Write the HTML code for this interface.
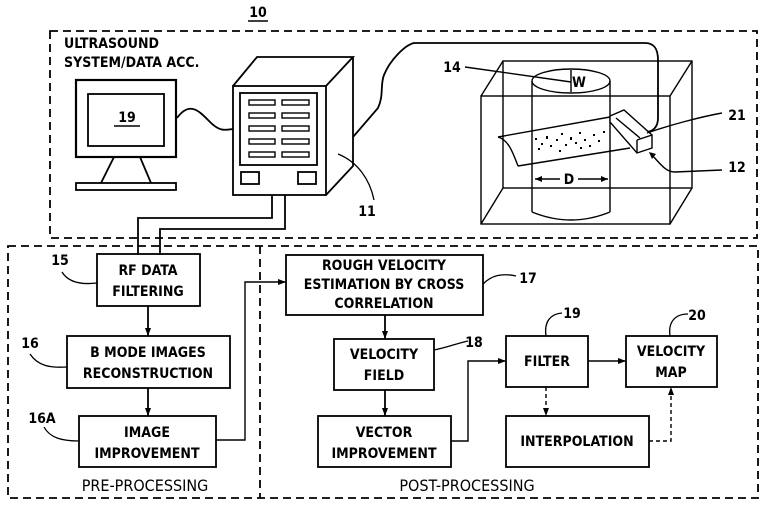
<!DOCTYPE html>
<html><head><meta charset="utf-8"><style>
html,body{margin:0;padding:0;background:#fff;}
svg{display:block}
text{font-family:"DejaVu Sans Condensed","DejaVu Sans","Liberation Sans",sans-serif;font-size:14px;fill:#000;}
</style></head><body>
<svg width="765" height="508" viewBox="0 0 765 508" xmlns="http://www.w3.org/2000/svg">
<defs>
<marker id="a" markerWidth="8" markerHeight="6" refX="8" refY="3" orient="auto" markerUnits="userSpaceOnUse"><path d="M0,0 L8,3 L0,6 z" fill="#000"/></marker>
</defs>
<g fill="none" stroke="#000" stroke-width="1.8">
<rect x="50" y="31" width="707" height="207" stroke-dasharray="8,5"/>
<rect x="8" y="246" width="750" height="252" stroke-dasharray="8,5"/>
<line x1="260" y1="246" x2="260" y2="498" stroke-dasharray="8,5"/>
<rect x="76" y="80" width="100" height="77" stroke-width="2.2"/>
<rect x="88" y="94" width="76" height="52"/>
<line x1="114" y1="157" x2="101" y2="183"/><line x1="140" y1="157" x2="151" y2="183"/>
<rect x="76" y="183" width="100" height="7"/>
<path d="M177,118 C190,100 200,112 210,122 C220,132 225,130 233,129"/>
<rect x="233" y="86" width="93" height="109"/>
<path d="M233,86 L257,57 L353,57 L326,86 M353,57 L353,166 L326,195"/>
<rect x="240" y="93" width="77" height="72"/>
<g stroke-width="1.4">
<rect x="249" y="100" width="26" height="5"/><rect x="282" y="100" width="27" height="5"/>
<rect x="249" y="113" width="26" height="5"/><rect x="282" y="113" width="27" height="5"/>
<rect x="249" y="126" width="26" height="5"/><rect x="282" y="126" width="27" height="5"/>
<rect x="249" y="139" width="26" height="5"/><rect x="282" y="139" width="27" height="5"/>
<rect x="249" y="152" width="26" height="5"/><rect x="282" y="152" width="27" height="5"/>
</g>
<rect x="241" y="172" width="18" height="12"/><rect x="298" y="172" width="18" height="12"/>
<path d="M338,154 C358,162 370,180 374,200" stroke-width="1.3"/>
<path d="M353,137 L378,108 C384,95 380,85 384,75 C390,60 405,45 414,43 L645,43 C655,43 658,50 658,60 L658,118 C658,128 652,132 645,132"/>
<path d="M272,195 L272,218 L138,218 L138,255 M285,195 L285,229 L160,229 L160,255"/>
<g stroke-width="1.4">
<rect x="481" y="96" width="189" height="128"/>
<rect x="503" y="61" width="189" height="127"/>
<path d="M481,96 L503,61 M670,96 L692,61 M481,224 L503,188 M670,224 L692,188"/>
<ellipse cx="571" cy="81" rx="39" ry="12" fill="#fff"/>
<path d="M532,81 L532,212 M610,81 L610,212 M532,212 Q571,228 610,212"/>
<line x1="571" y1="70" x2="571" y2="92"/>
<line x1="465" y1="67" x2="571" y2="82"/>
<path d="M498,137 L610,117 M518,166 L630,148 M498,137 C508,140 512,150 518,166"/>
<line x1="535" y1="179" x2="560" y2="179"/>
<line x1="578" y1="179" x2="608" y2="179"/>
<path d="M610,116 L624,110 L652,135 L652,148 L637,153 L610,122 z" fill="#fff"/>
<path d="M637,140 L652,135 M637,140 L637,153 M616,118 L640,138"/>
<path d="M647,133 C670,125 700,117 722,113"/>
<path d="M650,153 C660,163 665,172 675,172 L722,170" />
</g>
<path d="M535,179 l7,-3 v6z M608,179 l-7,-3 v6z M649,152 l7,2 l-4,5z" fill="#000" stroke="none"/>
<rect x="97" y="254" width="103" height="52"/>
<rect x="67" y="336" width="163" height="52"/>
<rect x="79" y="416" width="137" height="51"/>
<rect x="286" y="255" width="197" height="60"/>
<rect x="334" y="339" width="100" height="51"/>
<rect x="318" y="416" width="133" height="51"/>
<rect x="506" y="336" width="82" height="51"/>
<rect x="626" y="336" width="91" height="51"/>
<rect x="506" y="416" width="143" height="51"/>
<line x1="148" y1="306" x2="148" y2="336" marker-end="url(#a)"/>
<line x1="148" y1="388" x2="148" y2="416" marker-end="url(#a)"/>
<path d="M216,440 L245,440 L245,282 L286,282" marker-end="url(#a)" stroke-width="1.4"/>
<line x1="385" y1="315" x2="385" y2="339" marker-end="url(#a)"/>
<line x1="385" y1="390" x2="385" y2="416" marker-end="url(#a)"/>
<path d="M451,441 L468,441 L468,361 L506,361" marker-end="url(#a)" stroke-width="1.4"/>
<line x1="588" y1="361" x2="626" y2="361" marker-end="url(#a)" stroke-width="1.4"/>
<line x1="546" y1="387" x2="546" y2="416" stroke-dasharray="4,3" marker-end="url(#a)" stroke-width="1.4"/>
<path d="M649,441 L671,441 L671,387" stroke-dasharray="4,3" marker-end="url(#a)" stroke-width="1.4"/>
<g stroke-width="1.3">
<path d="M62,272 C68,282 80,285 97,283"/>
<path d="M30,354 C38,366 50,368 67,367"/>
<path d="M44,427 C50,438 62,441 79,441"/>
<path d="M483,284 C492,275 502,273 516,276"/>
<path d="M434,350 C445,348 455,344 468,341"/>
<path d="M546,336 C544,322 550,314 562,313"/>
<path d="M670,336 C668,322 675,314 688,314"/>
</g>
</g>
<line x1="248" y1="21" x2="268" y2="21" stroke="#000" stroke-width="1.5"/>
<line x1="114" y1="126" x2="140" y2="126" stroke="#000" stroke-width="1.5"/>
<g font-weight="bold">
<text x="258" y="17" text-anchor="middle">10</text>
<text x="127" y="122" text-anchor="middle">19</text>
<text x="64" y="48">ULTRASOUND</text>
<text x="64" y="67">SYSTEM/DATA ACC.</text>
<text x="367" y="216" text-anchor="middle">11</text>
<text x="452" y="72" text-anchor="middle">14</text>
<text x="579" y="87" text-anchor="middle">W</text>
<text x="569" y="184" text-anchor="middle">D</text>
<text x="737" y="120" text-anchor="middle">21</text>
<text x="737" y="172" text-anchor="middle">12</text>
<text x="60" y="265" text-anchor="middle">15</text>
<text x="30" y="348" text-anchor="middle">16</text>
<text x="42" y="423" text-anchor="middle">16A</text>
<text x="148" y="275" text-anchor="middle">RF DATA</text>
<text x="148" y="296" text-anchor="middle">FILTERING</text>
<text x="148" y="357" text-anchor="middle">B MODE IMAGES</text>
<text x="148" y="378" text-anchor="middle">RECONSTRUCTION</text>
<text x="147" y="437" text-anchor="middle">IMAGE</text>
<text x="147" y="458" text-anchor="middle">IMPROVEMENT</text>
<text x="145" y="491" text-anchor="middle" style="font-size:16px;font-weight:normal">PRE-PROCESSING</text>
<text x="384" y="270" text-anchor="middle">ROUGH VELOCITY</text>
<text x="384" y="289" text-anchor="middle">ESTIMATION BY CROSS</text>
<text x="384" y="308" text-anchor="middle">CORRELATION</text>
<text x="528" y="283" text-anchor="middle">17</text>
<text x="384" y="359" text-anchor="middle">VELOCITY</text>
<text x="384" y="380" text-anchor="middle">FIELD</text>
<text x="474" y="347" text-anchor="middle">18</text>
<text x="384" y="437" text-anchor="middle">VECTOR</text>
<text x="384" y="458" text-anchor="middle">IMPROVEMENT</text>
<text x="547" y="366" text-anchor="middle">FILTER</text>
<text x="572" y="318" text-anchor="middle">19</text>
<text x="671" y="356" text-anchor="middle">VELOCITY</text>
<text x="671" y="377" text-anchor="middle">MAP</text>
<text x="697" y="320" text-anchor="middle">20</text>
<text x="577" y="446" text-anchor="middle">INTERPOLATION</text>
<text x="467" y="491" text-anchor="middle" style="font-size:16px;font-weight:normal">POST-PROCESSING</text>
</g>
<g fill="#000">
<rect x="535" y="138" width="2" height="2"/><rect x="541" y="143" width="2" height="2"/><rect x="546" y="136" width="2" height="3"/>
<rect x="550" y="145" width="2" height="2"/><rect x="556" y="139" width="2" height="2"/><rect x="561" y="133" width="2" height="2"/>
<rect x="565" y="144" width="2" height="2"/><rect x="570" y="137" width="2" height="3"/><rect x="575" y="142" width="2" height="2"/>
<rect x="579" y="132" width="2" height="2"/><rect x="584" y="139" width="2" height="2"/><rect x="589" y="145" width="2" height="2"/>
<rect x="593" y="134" width="2" height="2"/><rect x="598" y="140" width="2" height="2"/><rect x="603" y="131" width="2" height="2"/>
<rect x="538" y="148" width="2" height="2"/><rect x="559" y="150" width="2" height="2"/><rect x="580" y="147" width="2" height="2"/>
</g>
</svg>
</body></html>
